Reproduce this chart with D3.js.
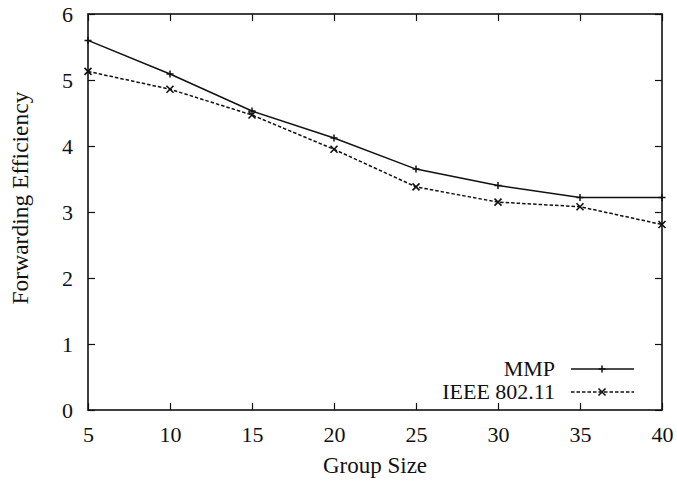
<!DOCTYPE html>
<html><head><meta charset="utf-8">
<script src="https://cdn.jsdelivr.net/npm/d3@7"></script>
<style>body{margin:0;background:#fff}svg{display:block}text{font-family:"Liberation Serif","Times New Roman",serif;fill:#111}</style>
</head><body><svg id="c" width="677" height="482"></svg>
<script>
const groupSize = [5,10,15,20,25,30,35,40];
const mmp = [5.6,5.09,4.53,4.12,3.65,3.40,3.22,3.22];
const ieee = [5.13,4.86,4.47,3.95,3.38,3.15,3.08,2.81];
const xTicks = [5,10,15,20,25,30,35,40];
const yTicks = [0,1,2,3,4,5,6];
const seriesNames = ["MMP","IEEE 802.11"];

const svg = d3.select("#c");
const L=88,R=662,T=14,B=410;
const x = d3.scaleLinear().domain([5,40]).range([L,R]);
const y = d3.scaleLinear().domain([0,6]).range([B,T]);
const stroke="#111";

const g = svg.append("g");
g.append("g").attr("transform",`translate(0,${B})`).call(d3.axisBottom(x).tickValues(xTicks).tickSize(-7).tickPadding(16).tickFormat(d3.format("d")));
g.append("g").attr("transform",`translate(0,${T})`).call(d3.axisTop(x).tickValues(xTicks).tickSize(-7).tickFormat(""));
g.append("g").attr("transform",`translate(${L},0)`).call(d3.axisLeft(y).tickValues(yTicks).tickSize(-7).tickPadding(15).tickFormat(d3.format("d")));
g.append("g").attr("transform",`translate(${R},0)`).call(d3.axisRight(y).tickValues(yTicks).tickSize(-7).tickFormat(""));
g.selectAll(".domain").remove();
g.selectAll(".tick line").attr("stroke",stroke).attr("stroke-width",1.2);
g.selectAll(".tick text").attr("font-size",22).attr("fill","#111").style("font-family","Liberation Serif, serif");

svg.append("rect").attr("x",L).attr("y",T).attr("width",R-L).attr("height",B-T).attr("fill","none").attr("stroke",stroke).attr("stroke-width",1.6);

const line = d3.line().x((d,i)=>x(groupSize[i])).y(d=>y(d));
svg.append("path").datum(mmp).attr("d",line).attr("fill","none").attr("stroke",stroke).attr("stroke-width",1.5);
svg.append("path").datum(ieee).attr("d",line).attr("fill","none").attr("stroke",stroke).attr("stroke-width",1.5).attr("stroke-dasharray","3.5,2");

function plus(sel){sel.append("path").attr("d","M-3.5,0H3.5M0,-3.5V3.5").attr("stroke",stroke).attr("stroke-width",1.5);}
function cross(sel){sel.append("path").attr("d","M-3.5,-3.5L3.5,3.5M-3.5,3.5L3.5,-3.5").attr("stroke",stroke).attr("stroke-width",1.6);}
svg.append("g").selectAll("g").data(mmp).join("g").attr("transform",(d,i)=>`translate(${x(groupSize[i])},${y(d)})`).call(plus);
svg.append("g").selectAll("g").data(ieee).join("g").attr("transform",(d,i)=>`translate(${x(groupSize[i])},${y(d)})`).call(cross);

const leg = [{name:seriesNames[0],dash:null,m:plus,yy:369},{name:seriesNames[1],dash:"3.5,2",m:cross,yy:392}];
leg.forEach(l=>{
  svg.append("text").attr("x",555).attr("y",l.yy+7).attr("text-anchor","end").attr("font-size",22).text(l.name);
  svg.append("line").attr("x1",571).attr("x2",634).attr("y1",l.yy).attr("y2",l.yy).attr("stroke",stroke).attr("stroke-width",1.5).attr("stroke-dasharray",l.dash);
  svg.append("g").attr("transform",`translate(602,${l.yy})`).call(l.m);
});

svg.append("text").attr("x",(L+R)/2).attr("y",473).attr("text-anchor","middle").attr("font-size",23).text("Group Size");
svg.append("text").attr("transform",`translate(28,198) rotate(-90)`).attr("text-anchor","middle").attr("font-size",23.5).text("Forwarding Efficiency");
</script></body></html>
